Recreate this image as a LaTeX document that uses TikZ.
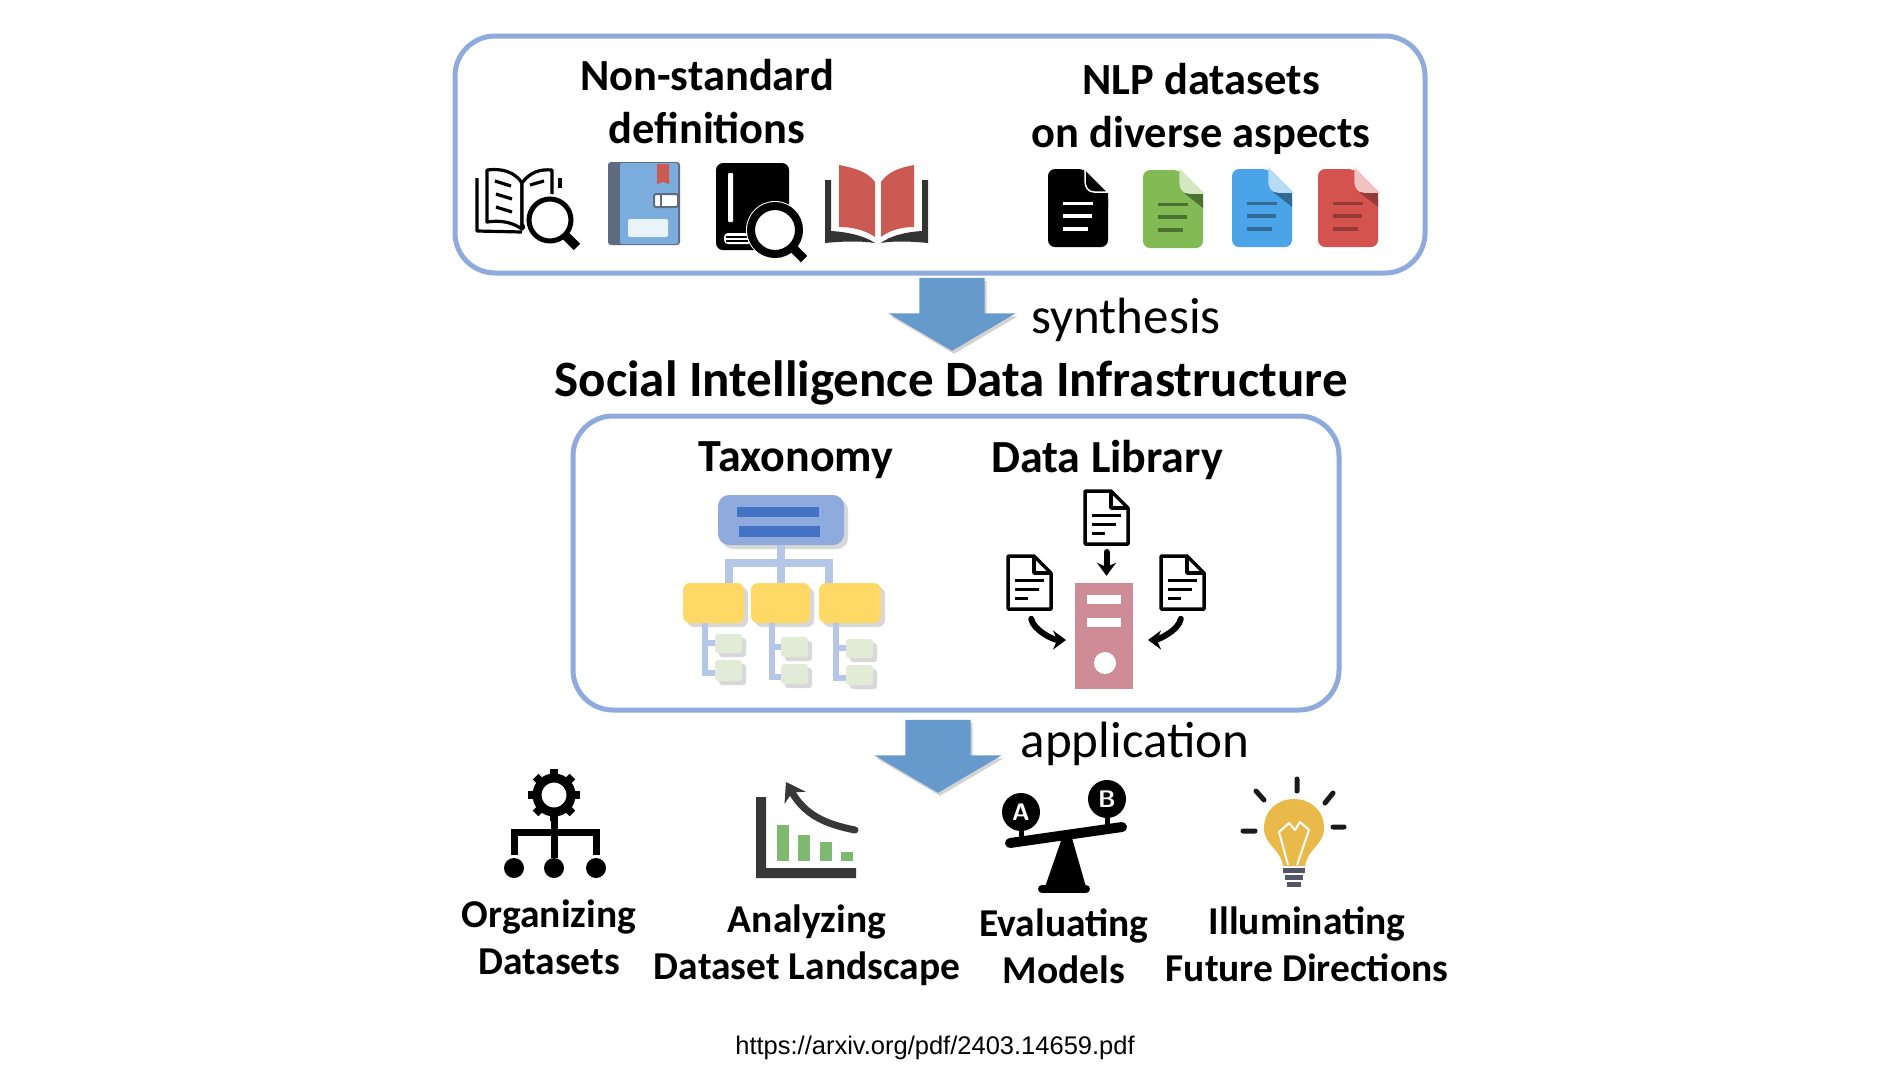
\documentclass[tikz,border=0pt]{standalone}
\usepackage{fontspec}
\setmainfont{Carlito}
\newfontfamily\urlfont{Liberation Sans}
\usetikzlibrary{shapes.arrows,shadows,arrows.meta}
\definecolor{boxblue}{HTML}{8FAADC}
\definecolor{arrowblue}{HTML}{6699CC}
\definecolor{treeblue}{HTML}{B4C7E7}
\definecolor{barblue}{HTML}{4472C4}
\definecolor{nodeyellow}{HTML}{FFD966}
\definecolor{leafgreen}{HTML}{E2EBD8}
\definecolor{serverpink}{HTML}{CE8C96}
\definecolor{bookred}{HTML}{CB5B52}
\definecolor{bookblue}{HTML}{7AADDD}
\definecolor{spinegray}{HTML}{5F6B80}
\definecolor{chartgreen}{HTML}{7DB96F}
\definecolor{bulbyellow}{HTML}{E9B949}
\definecolor{screwgray}{HTML}{55556A}
\definecolor{fileblue}{HTML}{4BA3E8}
\definecolor{filered}{HTML}{D5534F}
\definecolor{filegreen}{HTML}{82BB54}
\tikzset{
  panel/.style={draw=boxblue, line width=5pt, rounded corners=40pt, fill=white},
  blockarrow/.style={single arrow, draw=none, fill=arrowblue, inner sep=0pt, anchor=tip, rotate=-90,
    minimum height=73pt, minimum width=127pt, single arrow head extend=31pt, single arrow head indent=0pt,
    single arrow tip angle=119, drop shadow={opacity=.35, shadow xshift=2pt, shadow yshift=-3pt}},
  headtext/.style={font=\fontsize{44.5}{53}\selectfont\bfseries, align=center},
  subtext/.style={font=\fontsize{39.5}{47}\selectfont\bfseries, align=center},
  plaintext/.style={font=\fontsize{51}{55}\selectfont},
  treeline/.style={draw=treeblue, line width=8pt},
  leafline/.style={draw=treeblue, line width=6pt},
  taxbox/.style={rounded corners=7pt, inner sep=0pt, drop shadow={opacity=.3, shadow xshift=4pt, shadow yshift=-4pt}},
  blackarrow/.style={line width=6pt, -{Stealth[length=13pt,width=19pt]}, line cap=round},
  pics/filedoc/.style n args={5}{code={
    \fill[#1, rounded corners=7pt] (0,0) -- (37,0) -- (60,23) -- (60,78) -- (0,78) -- cycle;
    \fill[#4] (41,23) -- (60,23) -- (60,38) -- cycle;
    \draw[#5, fill=#2, line width=1.5pt] (37,0) -- (60,23) -- (46,23) .. controls (40,23) and (37,18) .. (37,12) -- cycle;
    \fill[#3] (15,33) rectangle (45,36);
    \fill[#3] (15,45) rectangle (44,49);
    \fill[#3] (15,58) rectangle (40,62);
  }},
  pics/outdoc/.style={code={
    \draw[line width=3.5pt, fill=white, line join=round] (0,0) -- (26,0) -- (43,17) -- (43,53) -- (0,53) -- cycle;
    \draw[line width=3.5pt, line join=round] (26,0) -- (26,17) -- (43,17);
    \draw[line width=3pt] (7,24) -- (36,24) (7,33) -- (31,33) (7,42) -- (20,42);
    \coordinate (-top) at (21.5,0);
    \coordinate (-bottom) at (21.5,53);
  }},
  pics/lens/.style n args={2}{code={
    \fill[white] (0,0) circle (#1+5);
    \draw[line width=#2, fill=white] (0,0) circle (#1);
    \draw[line width=9pt] (45:#1) -- (45:#1+17);
  }}
}
\begin{document}
\begin{tikzpicture}[x=1pt, y=-1pt]
\useasboundingbox[fill=white] (0,0) rectangle (1878,1080);

\node[panel, minimum width=970pt, minimum height=237pt] (sourceBox) at (940,154.5) {};
\node[panel, minimum width=766pt, minimum height=294pt] (infraBox) at (956,563) {};

\node[blockarrow] (synthArrow) at (952,351) {\rule{0pt}{65pt}};
\node[blockarrow] (applyArrow) at (938,793) {\rule{0pt}{65pt}};
\node[plaintext] (synthLabel) at (1126,320) {synthesis};
\node[plaintext] (applyLabel) at (1135,744) {application};

\node[headtext] (defsLabel) at (707,102) {Non-standard\\definitions};
\node[headtext] (nlpLabel) at (1201,109) {NLP datasets\\on diverse aspects};
\node[font=\fontsize{51}{55}\selectfont\bfseries] (titleLabel) at (951,383) {Social Intelligence Data Infrastructure};
\node[font=\fontsize{46}{50}\selectfont\bfseries] (taxLabel) at (796,460) {Taxonomy};
\node[font=\fontsize{46}{50}\selectfont\bfseries] (libLabel) at (1107,460) {Data Library};

\node[subtext] (orgLabel) at (549,937) {Organizing\\Datasets};
\node[subtext] (anaLabel) at (807,945) {Analyzing\\Dataset Landscape};
\node[subtext] (evalLabel) at (1064,946) {Evaluating\\Models};
\node[subtext] (illumLabel) at (1307,944) {Illuminating\\Future Directions};
\node[font=\urlfont\fontsize{25.5}{30}\selectfont] (urlLabel) at (935,1048) {https://arxiv.org/pdf/2403.14659.pdf};

% reading book with lens
\begin{scope}[line width=3.2pt, line join=round]
  \draw (477,178) -- (477,231) -- (522,232);
  \draw[fill=white] (487,170) .. controls (502,168) and (515,172) .. (522,183) -- (522,229) .. controls (512,222) and (500,220) .. (487,222) -- cycle;
  \draw[fill=white] (522,183) .. controls (530,172) and (540,169) .. (552,170) -- (552,196) -- (522,229) -- cycle;
  \draw (495,181) -- (511,186) (496,194) -- (512,199) (496,207) -- (512,212) (530,185) -- (544,181);
  \draw (560,178) -- (560,188);
\end{scope}
\pic at (550,220) {lens={21}{5pt}};

% notebook
\fill[spinegray, rounded corners=3pt] (608,162) rectangle (680,245);
\fill[bookblue, rounded corners=2pt] (620,163) rectangle (678,244);
\fill[bookred] (657,164) -- (669,164) -- (669,184) -- (663,182) -- (657,184) -- cycle;
\draw[spinegray, line width=2pt, fill=white, rounded corners=2pt] (654,194) rectangle (678,207);
\fill[spinegray] (660,194) rectangle (662,207);
\fill[white!85!bookblue, rounded corners=2pt] (628,219) rectangle (668,237);

% black book with lens
\fill[rounded corners=7pt] (716,250) -- (716,163) -- (789,163) -- (789,250) -- cycle;
\fill[white, rounded corners=1pt] (728,173) rectangle (733,222);
\fill[white, rounded corners=4pt] (724,233) rectangle (752,244);
\draw[line width=1.5pt] (726,237) -- (748,237) (726,241) -- (748,241);
\pic at (775,230) {lens={24}{8pt}};

% red open book
\fill[bookred] (839,165) .. controls (855,168) and (868,172) .. (875,182) -- (875,237) .. controls (865,230) and (852,227) .. (839,227) -- cycle;
\fill[bookred] (914,165) .. controls (898,168) and (888,172) .. (881,182) -- (881,237) .. controls (890,230) and (902,227) .. (914,227) -- cycle;
\fill[black!80] (825,180) -- (831,180) -- (831,231) .. controls (848,232) and (865,236) .. (875,243) .. controls (862,241) and (845,241) .. (825,243) -- cycle;
\fill[black!80] (928,180) -- (922,180) -- (922,231) .. controls (905,232) and (890,236) .. (881,243) .. controls (892,241) and (908,241) .. (928,243) -- cycle;

% datasets
\pic at (1048,169) {filedoc={black}{black}{white}{black}{white}};
\pic at (1143,170) {filedoc={filegreen}{filegreen!35!white}{filegreen!60!black}{filegreen!60!black}{filegreen!35!white}};
\pic at (1232,169) {filedoc={fileblue}{fileblue!40!white}{fileblue!65!black}{fileblue!65!black}{fileblue!40!white}};
\pic at (1318,169) {filedoc={filered}{filered!35!white}{filered!70!black}{filered!70!black}{filered!35!white}};

% taxonomy
\node[taxbox, fill=boxblue, minimum width=126pt, minimum height=50pt, rounded corners=11pt] (taxRoot) at (781,520) {};
\fill[barblue] (737,507) rectangle (819,517);
\fill[barblue] (739,526) rectangle (820,537);
\coordinate (busL) at (729,563);
\coordinate (busR) at (829,563);
\coordinate (stemA) at (705,673);
\coordinate (stemB) at (772,677);
\coordinate (stemC) at (836,678);
\node[taxbox, fill=nodeyellow, minimum width=61pt, minimum height=40pt] (taxA) at (713.5,603) {};
\node[taxbox, fill=nodeyellow, minimum width=59pt, minimum height=40pt] (taxB) at (780.5,603) {};
\node[taxbox, fill=nodeyellow, minimum width=62pt, minimum height=40pt] (taxC) at (850,603) {};
\draw[treeline] (taxRoot.south) -- (taxRoot.south |- taxB.north);
\draw[treeline] (busL |- taxA.north) -- (busL) -- (busR) -- (busR |- taxC.north);
\draw[leafline] (stemA |- taxA.south) -- (stemA) -- ++(10,0);
\draw[leafline] (stemA |- 0,643) -- ++(10,0);
\draw[leafline] (stemB |- taxB.south) -- (stemB) -- ++(10,0);
\draw[leafline] (stemB |- 0,647) -- ++(10,0);
\draw[leafline] (stemC |- taxC.south) -- (stemC) -- ++(10,0);
\draw[leafline] (stemC |- 0,648) -- ++(10,0);
\node[taxbox, fill=leafgreen, minimum width=27pt, minimum height=19pt, rounded corners=3pt] (leafA1) at (728.5,643.5) {};
\node[taxbox, fill=leafgreen, minimum width=27pt, minimum height=21pt, rounded corners=3pt] (leafA2) at (728.5,670.5) {};
\node[taxbox, fill=leafgreen, minimum width=27pt, minimum height=20pt, rounded corners=3pt] (leafB1) at (794.5,647) {};
\node[taxbox, fill=leafgreen, minimum width=27pt, minimum height=20pt, rounded corners=3pt] (leafB2) at (794.5,674) {};
\node[taxbox, fill=leafgreen, minimum width=27pt, minimum height=19pt, rounded corners=3pt] (leafC1) at (859.5,648.5) {};
\node[taxbox, fill=leafgreen, minimum width=27pt, minimum height=20pt, rounded corners=3pt] (leafC2) at (859.5,675) {};

% data library
\node[fill=serverpink, minimum width=58pt, minimum height=106pt, inner sep=0pt] (server) at (1104,636) {};
\fill[white] (1087,595) rectangle (1121,604);
\fill[white] (1087,618) rectangle (1121,627);
\fill[white] (1105,663) circle (11);
\pic (docTop) at (1085,491) {outdoc};
\pic (docLeft) at (1008,556) {outdoc};
\pic (docRight) at (1161,556) {outdoc};
\coordinate (serverL) at (1075,640);
\coordinate (serverR) at (1133,640);
\draw[blackarrow, shorten <=8pt, shorten >=7pt] (docTop-bottom) -- (docTop-bottom |- server.north);
\draw[blackarrow, shorten <=10pt, shorten >=9pt] (docLeft-bottom) to[out=-80, in=180] (serverL);
\draw[blackarrow, shorten <=10pt, shorten >=15pt] (docRight-bottom) to[out=-100, in=0] (serverR);

% organizing
\begin{scope}[line width=7pt]
  \draw (554,812) -- (554,858);
  \draw (514,855) -- (514,832) -- (596,832) -- (596,855);
  \fill (514,868) circle (10);
  \fill (554,868) circle (10);
  \fill (596,868) circle (10);
  \foreach \ang in {0,45,...,315} {
    \draw[line width=8pt] (554,795) ++(\ang:19) -- ++(\ang:7);
  }
  \draw[line width=9pt, fill=white] (554,795) circle (17);
\end{scope}

% analyzing
\fill[black!78] (756,797) -- (766,797) -- (766,868) -- (856,868) -- (856,878) -- (756,878) -- cycle;
\fill[chartgreen] (777,825) rectangle (789,861);
\fill[chartgreen] (798,835) rectangle (810,861);
\fill[chartgreen] (820,842) rectangle (832,861);
\fill[chartgreen] (841,852) rectangle (853,861);
\draw[black!78, line width=7pt, line cap=round, -{Stealth[length=18pt,width=24pt]}] (855,830) .. controls (825,824) and (805,815) .. (786,782);

% evaluating
\fill (1021,812) circle (19);
\fill (1107,799) circle (19);
\node[text=white, font=\fontsize{24}{24}\selectfont\bfseries\sffamily] (ballA) at (1021,812) {A};
\node[text=white, font=\fontsize{24}{24}\selectfont\bfseries\sffamily] (ballB) at (1107,799) {B};
\draw[line width=5pt] (1021,828) -- (1021,840) (1107,815) -- (1107,828);
\fill (1062,838) -- (1072,838) -- (1086,887) -- (1045,887) -- cycle;
\draw[line width=10pt, line cap=round] (1010,843) -- (1122,827);
\draw[line width=8pt, line cap=round] (1042,889) -- (1086,889);

% illuminating
\fill[bulbyellow] (1283,866) .. controls (1280,848) and (1264,845) .. (1264,828) .. controls (1264,810) and (1278,799) .. (1294,799) .. controls (1310,799) and (1324,810) .. (1324,828) .. controls (1324,845) and (1308,848) .. (1305,866) -- cycle;
\draw[white, line width=2pt, line join=round] (1288,865) -- (1279,832) -- (1289,823) -- (1295,830) -- (1300,822) -- (1309,830) -- (1297,865);
\draw[screwgray, line width=5pt] (1283,870) -- (1305,870) (1285,877) -- (1303,877) (1287,884) -- (1301,884);
\draw[line width=5pt, line cap=round, black!90] (1297,779) -- (1297,791) (1256,791) -- (1264,800) (1333,793) -- (1325,803) (1243,831) -- (1255,831) (1333,827) -- (1344,827);
\end{tikzpicture}
\end{document}
